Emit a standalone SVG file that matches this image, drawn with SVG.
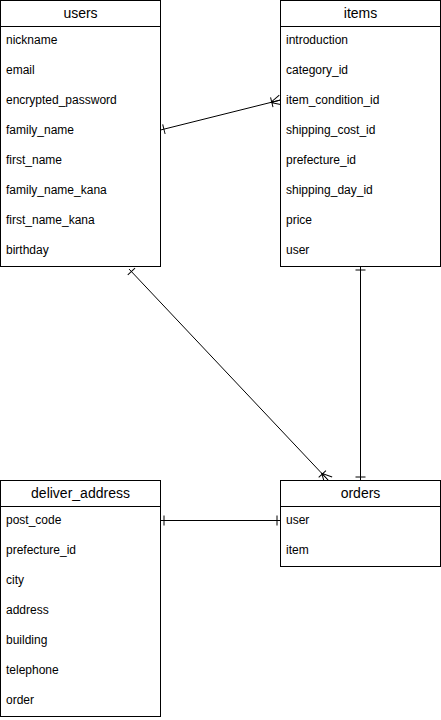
<svg xmlns="http://www.w3.org/2000/svg" width="441" height="720" viewBox="0 0 441 720">
<style>
.box{fill:#fff;stroke:#000;stroke-width:1}
.hd{stroke:#000;stroke-width:1}
.t{font-family:"Liberation Sans",Arial,sans-serif;font-size:14px;fill:#000;text-anchor:middle}
.r{font-family:"Liberation Sans",Arial,sans-serif;font-size:12px;fill:#000}
.c{fill:none;stroke:#000;stroke-width:1}
</style>
<defs>
<marker id="one" markerUnits="userSpaceOnUse" markerWidth="20" markerHeight="20" refX="10" refY="10" orient="auto-start-reverse" overflow="visible">
<path d="M6.5,5 L6.5,15" fill="none" stroke="#000" stroke-width="1"/>
</marker>
<marker id="many" markerUnits="userSpaceOnUse" markerWidth="20" markerHeight="20" refX="10" refY="10" orient="auto-start-reverse" overflow="visible">
<path d="M10,5 L0,10 L10,15 M0,10 L10,10 M1,5 L1,15" fill="none" stroke="#000" stroke-width="1"/>
</marker>
</defs>
<g id="connectors">
<line class="c" x1="160.5" y1="130" x2="280.5" y2="100" marker-start="url(#one)" marker-end="url(#many)"/>
<line class="c" x1="129" y1="269" x2="328.5" y2="480.5" marker-start="url(#one)" marker-end="url(#many)"/>
<line class="c" x1="360.5" y1="266.5" x2="360.5" y2="480.5" marker-start="url(#one)" marker-end="url(#one)"/>
<line class="c" x1="160.5" y1="520.5" x2="280.5" y2="520.5" marker-start="url(#one)" marker-end="url(#one)"/>
</g>
<g id="users">
<rect class="box" x="0.5" y="0.5" width="160" height="266"/>
<line class="hd" x1="0.5" y1="26.5" x2="160.5" y2="26.5"/>
<text class="t" x="80.5" y="18">users</text>
<text class="r" x="6" y="44">nickname</text>
<text class="r" x="6" y="74">email</text>
<text class="r" x="6" y="104">encrypted_password</text>
<text class="r" x="6" y="134">family_name</text>
<text class="r" x="6" y="164">first_name</text>
<text class="r" x="6" y="194">family_name_kana</text>
<text class="r" x="6" y="224">first_name_kana</text>
<text class="r" x="6" y="254">birthday</text>
</g>
<g id="items">
<rect class="box" x="280.5" y="0.5" width="160" height="266"/>
<line class="hd" x1="280.5" y1="26.5" x2="440.5" y2="26.5"/>
<text class="t" x="360.5" y="18">items</text>
<text class="r" x="286" y="44">introduction</text>
<text class="r" x="286" y="74">category_id</text>
<text class="r" x="286" y="104">item_condition_id</text>
<text class="r" x="286" y="134">shipping_cost_id</text>
<text class="r" x="286" y="164">prefecture_id</text>
<text class="r" x="286" y="194">shipping_day_id</text>
<text class="r" x="286" y="224">price</text>
<text class="r" x="286" y="254">user</text>
</g>
<g id="deliver_address">
<rect class="box" x="0.5" y="480.5" width="160" height="236"/>
<line class="hd" x1="0.5" y1="506.5" x2="160.5" y2="506.5"/>
<text class="t" x="80.5" y="498">deliver_address</text>
<text class="r" x="6" y="524">post_code</text>
<text class="r" x="6" y="554">prefecture_id</text>
<text class="r" x="6" y="584">city</text>
<text class="r" x="6" y="614">address</text>
<text class="r" x="6" y="644">building</text>
<text class="r" x="6" y="674">telephone</text>
<text class="r" x="6" y="704">order</text>
</g>
<g id="orders">
<rect class="box" x="280.5" y="480.5" width="160" height="86"/>
<line class="hd" x1="280.5" y1="506.5" x2="440.5" y2="506.5"/>
<text class="t" x="360.5" y="498">orders</text>
<text class="r" x="286" y="524">user</text>
<text class="r" x="286" y="554">item</text>
</g>
</svg>
